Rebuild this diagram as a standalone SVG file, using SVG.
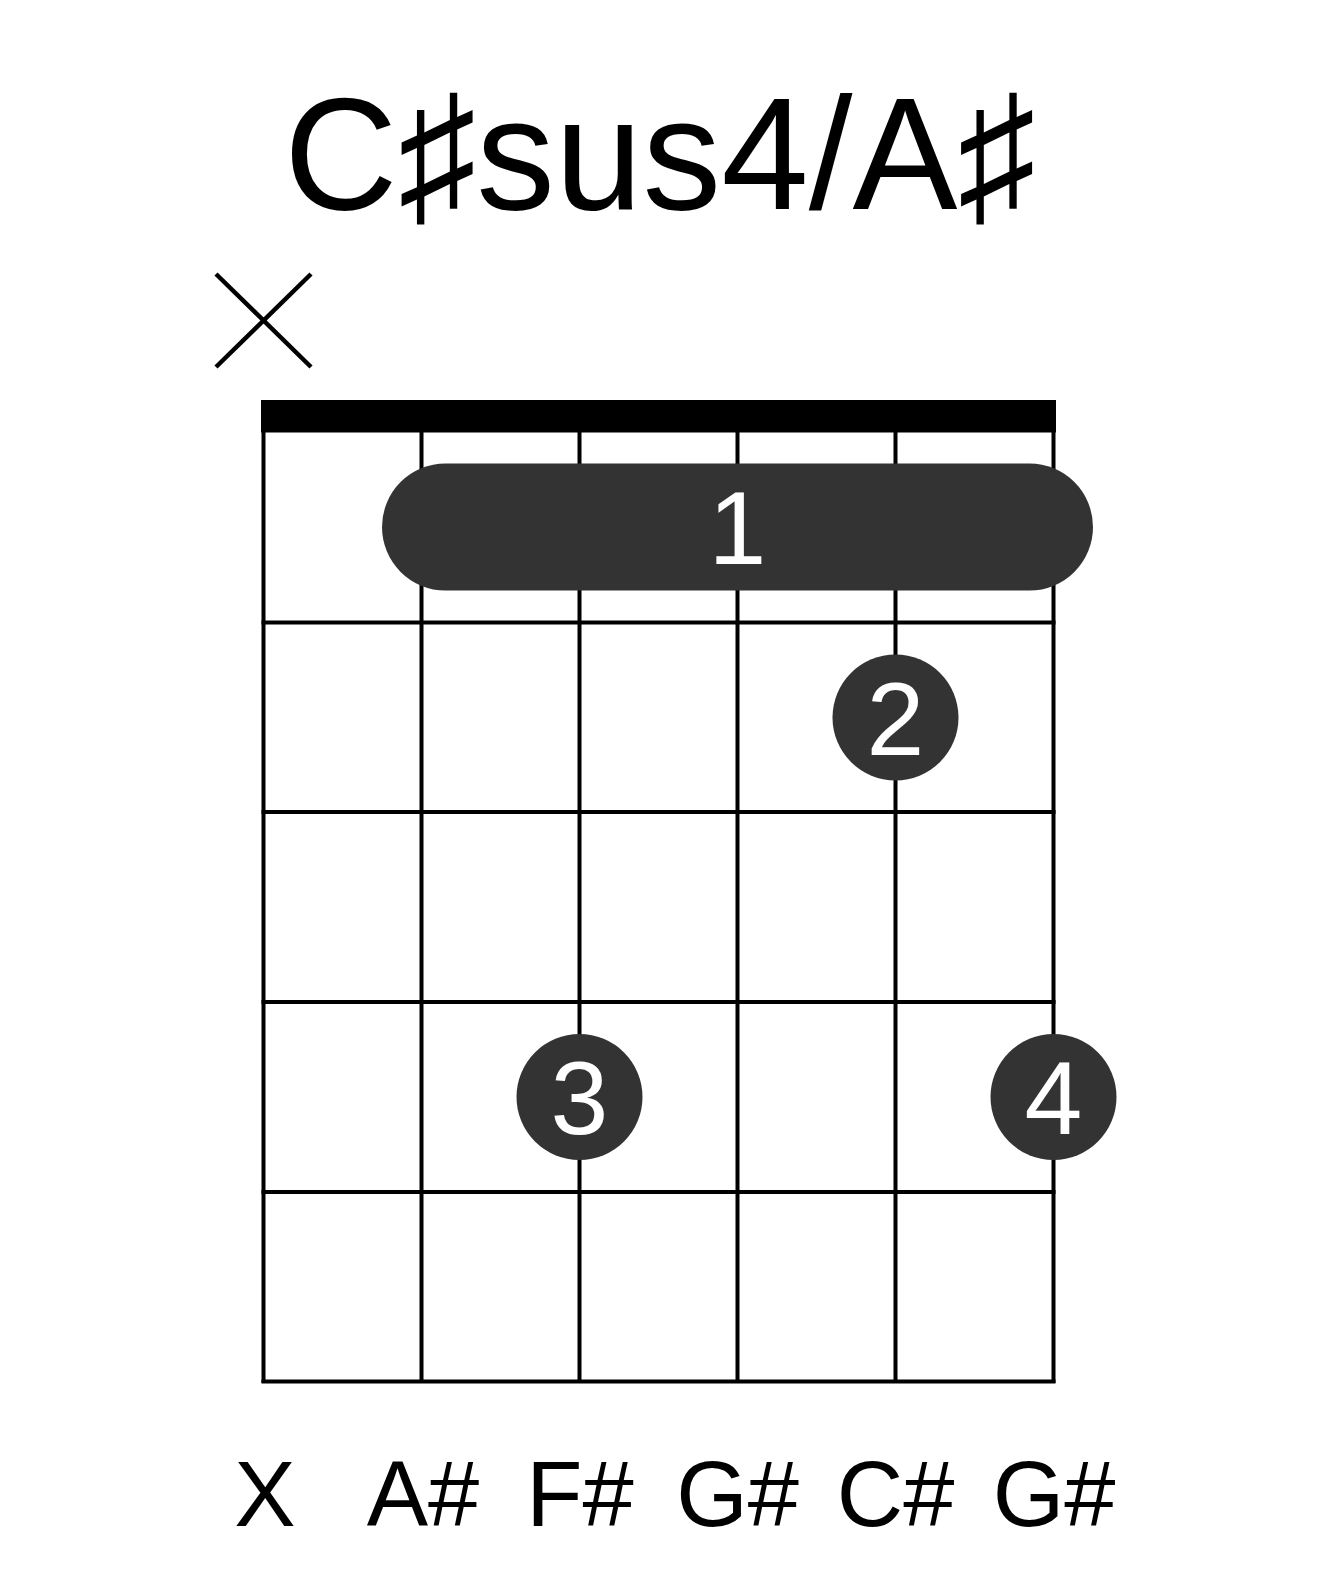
<svg xmlns="http://www.w3.org/2000/svg" width="1317" height="1581" viewBox="0 0 1317 1581">
<style>
.line{stroke:#000;stroke-width:4;fill:none}
.xm{stroke:#000;stroke-width:4.5;fill:none}
.mark{fill:#333}
.fnum{font-family:"Liberation Sans",Arial,sans-serif;font-size:104px;fill:#fff;text-anchor:middle}
.lbl{font-family:"Liberation Sans",Arial,sans-serif;font-size:92px;fill:#000;text-anchor:middle}
.title{font-family:"Liberation Sans","DejaVu Sans",sans-serif;font-size:160px;fill:#000;text-anchor:middle}
</style>
<rect width="1317" height="1581" fill="#fff"/>
<text id="title" class="title" x="660" y="209" textLength="752" lengthAdjust="spacingAndGlyphs">C♯sus4/A♯</text>
<g id="mute-x" class="xm">
<line x1="216" y1="274" x2="311" y2="367"/>
<line x1="311" y1="274" x2="216" y2="367"/>
</g>
<g id="fretboard">
<rect id="nut" x="261" y="400" width="795" height="32.5" fill="#000"/>
<g id="strings" class="line">
<line x1="263.5" y1="432" x2="263.5" y2="1383"/>
<line x1="421.5" y1="432" x2="421.5" y2="1383"/>
<line x1="579.5" y1="432" x2="579.5" y2="1383"/>
<line x1="737.5" y1="432" x2="737.5" y2="1383"/>
<line x1="895.5" y1="432" x2="895.5" y2="1383"/>
<line x1="1053.5" y1="432" x2="1053.5" y2="1383"/>
</g>
<g id="frets" class="line">
<line x1="261.5" y1="622.5" x2="1055.5" y2="622.5"/>
<line x1="261.5" y1="812" x2="1055.5" y2="812"/>
<line x1="261.5" y1="1002" x2="1055.5" y2="1002"/>
<line x1="261.5" y1="1192" x2="1055.5" y2="1192"/>
<line x1="261.5" y1="1381.5" x2="1055.5" y2="1381.5"/>
</g>
</g>
<g id="barre-1">
<rect class="mark" x="382" y="463.5" width="711" height="127" rx="63.5" ry="63.5"/>
<text class="fnum" x="737.5" y="564">1</text>
</g>
<g id="finger-2">
<circle class="mark" cx="895.5" cy="717.5" r="63"/>
<text class="fnum" x="895.5" y="755">2</text>
</g>
<g id="finger-3">
<circle class="mark" cx="579.5" cy="1097" r="63"/>
<text class="fnum" x="579.5" y="1134">3</text>
</g>
<g id="finger-4">
<circle class="mark" cx="1053.5" cy="1097" r="63"/>
<text class="fnum" x="1053.5" y="1134">4</text>
</g>
<g id="string-labels">
<text class="lbl" x="265" y="1526">X</text>
<text class="lbl" x="423" y="1526">A#</text>
<text class="lbl" x="580" y="1526">F#</text>
<text class="lbl" x="737.5" y="1526">G#</text>
<text class="lbl" x="895.5" y="1526">C#</text>
<text class="lbl" x="1054" y="1526">G#</text>
</g>
</svg>
